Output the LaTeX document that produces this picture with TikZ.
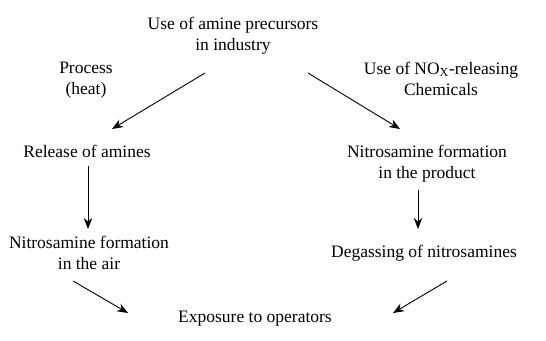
\documentclass[tikz,border=0pt]{standalone}
\usepackage{fontspec}
\setmainfont{Liberation Serif}
\usetikzlibrary{arrows.meta}
\begin{document}
\begin{tikzpicture}[x=1pt,y=-1pt,
  lbl/.style={inner sep=0pt, outer sep=0pt, align=center, anchor=north, font=\fontsize{17.5}{21}\selectfont},
  arr/.style={-{Stealth[length=11pt,width=8.5pt]}, line width=0.9pt}]
\useasboundingbox (0,0) rectangle (546,340);
\node[lbl] (top) at (233,17) {Use of amine precursors\\in industry};
\node[lbl] (proc) at (86,62) {Process\\(heat)};
\node[lbl] (nox) at (441,62) {Use of NO\textsubscript{X}-releasing\\Chemicals};
\node[lbl] (rel) at (87,145) {Release of amines};
\node[lbl] (rnit) at (427,145) {Nitrosamine formation\\in the product};
\node[lbl] (lnit) at (89,236) {Nitrosamine formation\\in the air};
\node[lbl] (deg) at (424,245) {Degassing of nitrosamines};
\node[lbl] (expo) at (255,311) {Exposure to operators};
\coordinate (a1s) at (205,73);
\coordinate (a1e) at (112,129);
\coordinate (a2s) at (308,73);
\coordinate (a2e) at (400,129);
\coordinate (a3s) at (88,166);
\coordinate (a3e) at (88,229);
\coordinate (a4s) at (418,190);
\coordinate (a4e) at (418,229);
\coordinate (a5s) at (73,281);
\coordinate (a5e) at (128,313);
\coordinate (a6s) at (447,281);
\coordinate (a6e) at (393,313);
\draw[arr] (a1s) -- (a1e);
\draw[arr] (a2s) -- (a2e);
\draw[arr] (a3s) -- (a3e);
\draw[arr] (a4s) -- (a4e);
\draw[arr] (a5s) -- (a5e);
\draw[arr] (a6s) -- (a6e);
\end{tikzpicture}
\end{document}
